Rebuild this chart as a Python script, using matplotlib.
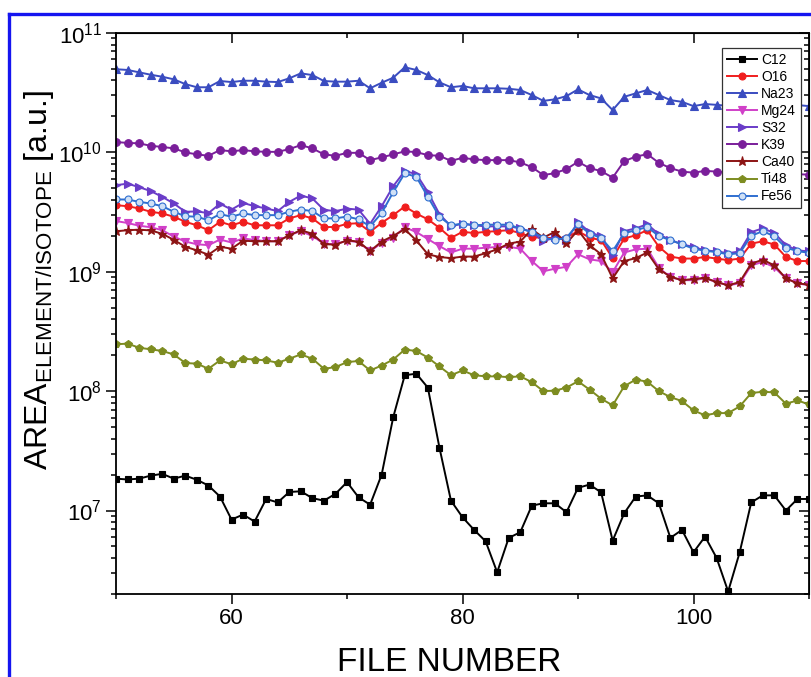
"""Element/isotope peak areas per file number, log scale, Origin-style frame."""

import matplotlib

matplotlib.use("Agg")
import matplotlib.pyplot as plt
from matplotlib.lines import Line2D
from matplotlib.ticker import LogFormatterMathtext, MultipleLocator

plt.rcParams["font.family"] = ["Liberation Sans", "DejaVu Sans"]
plt.rcParams["mathtext.fontset"] = "custom"
plt.rcParams["mathtext.rm"] = "Liberation Sans"
plt.rcParams["mathtext.it"] = "Liberation Sans:italic"
plt.rcParams["mathtext.bf"] = "Liberation Sans:bold"

FILE_NUMBER = list(range(50, 111))

C12 = [e * 1e6 for e in [
    18.5, 18.2, 18.5, 19.6, 20.3, 18.5, 19.6, 18.1, 16.2, 13.1,
    8.4, 9.25, 8.09, 12.5, 11.7, 14.3, 14.5, 12.7, 12.1, 13.8,
    17.3, 12.9, 11.2, 20.0, 60.5, 136, 140, 107, 33.7, 12.1,
    8.79, 6.89, 5.53, 3.04, 5.9, 6.58, 11.0, 11.5, 11.5, 9.68,
    15.5, 16.5, 14.2, 5.6, 9.49, 13.1, 13.4, 11.5, 5.9, 6.89,
    4.47, 6.05, 4.01, 2.10, 4.47, 11.7, 13.4, 13.4, 10.0, 12.5,
    12.5]]
O16 = [e * 1e9 for e in [
    3.61, 3.54, 3.39, 3.18, 3.08, 2.89, 2.62, 2.45, 2.23, 2.62,
    2.45, 2.62, 2.45, 2.45, 2.45, 2.80, 2.98, 2.80, 2.37, 2.37,
    2.52, 2.55, 2.16, 2.57, 2.98, 3.52, 3.07, 2.75, 2.33, 1.92,
    2.16, 2.11, 2.16, 2.19, 2.23, 2.11, 1.94, 1.93, 1.91, 1.93,
    2.19, 1.93, 1.84, 1.30, 1.90, 2.02, 2.23, 1.62, 1.34, 1.29,
    1.29, 1.33, 1.29, 1.25, 1.29, 1.72, 1.80, 1.69, 1.33, 1.23,
    1.23]]
NA23 = [e * 1e10 for e in [
    4.97, 4.90, 4.68, 4.47, 4.30, 4.09, 3.73, 3.51, 3.51, 3.96,
    3.88, 3.98, 3.98, 3.91, 3.88, 4.17, 4.59, 4.44, 3.96, 3.91,
    3.91, 3.98, 3.44, 3.83, 4.22, 5.16, 4.90, 4.44, 3.86, 3.51,
    3.60, 3.44, 3.44, 3.44, 3.41, 3.33, 3.02, 2.70, 2.78, 2.96,
    3.37, 3.02, 2.83, 2.26, 2.92, 3.12, 3.33, 3.02, 2.74, 2.65,
    2.44, 2.54, 2.50, 2.45, 2.50, 2.40, 2.45, 2.40, 2.45, 2.49,
    2.44]]
MG24 = [e * 1e9 for e in [
    2.66, 2.56, 2.43, 2.36, 2.23, 1.97, 1.79, 1.70, 1.67, 1.86,
    1.76, 1.90, 1.85, 1.80, 1.80, 2.02, 2.19, 1.99, 1.72, 1.70,
    1.82, 1.77, 1.48, 1.75, 1.93, 2.36, 2.15, 1.88, 1.64, 1.45,
    1.56, 1.56, 1.59, 1.61, 1.62, 1.56, 1.23, 1.01, 1.06, 1.10,
    1.40, 1.27, 1.23, 0.99, 1.45, 1.54, 1.56, 1.08, 0.90, 0.85,
    0.85, 0.88, 0.82, 0.77, 0.80, 1.13, 1.21, 1.09, 0.88, 0.80,
    0.77]]
S32 = [e * 1e9 for e in [
    5.31, 5.47, 5.11, 4.74, 4.24, 3.73, 3.18, 3.20, 3.10, 3.71,
    3.32, 3.77, 3.54, 3.39, 3.22, 3.85, 4.35, 4.11, 3.30, 3.22,
    3.38, 3.31, 2.52, 3.54, 5.21, 6.97, 6.58, 4.65, 3.04, 2.40,
    2.53, 2.45, 2.40, 2.40, 2.40, 2.31, 2.15, 1.80, 1.94, 1.84,
    2.60, 2.15, 1.98, 1.375, 2.19, 2.31, 2.50, 2.06, 1.84, 1.70,
    1.61, 1.51, 1.48, 1.43, 1.48, 2.15, 2.31, 2.11, 1.67, 1.51,
    1.48]]
K39 = [e * 1e9 for e in [
    12.2, 12.0, 11.9, 11.35, 11.1, 10.8, 10.0, 9.62, 9.36, 10.45,
    10.2, 10.45, 10.2, 10.1, 10.1, 10.65, 11.5, 10.8, 9.62, 9.36,
    9.91, 9.91, 8.61, 9.08, 9.62, 10.2, 10.05, 9.48, 9.36, 8.49,
    9.0, 8.73, 8.61, 8.61, 8.61, 8.24, 7.52, 6.45, 6.70, 7.24,
    8.34, 7.38, 6.97, 6.14, 8.45, 9.21, 9.66, 8.17, 7.38, 6.9,
    6.76, 7.0, 6.9, 6.8, 6.7, 6.8, 6.7, 6.6, 6.5, 6.57,
    6.5]]
CA40 = [e * 1e9 for e in [
    2.18, 2.23, 2.25, 2.22, 2.08, 1.85, 1.62, 1.51, 1.39, 1.62,
    1.56, 1.82, 1.80, 1.80, 1.80, 2.02, 2.23, 2.08, 1.70, 1.69,
    1.83, 1.79, 1.49, 1.79, 2.00, 2.27, 1.83, 1.40, 1.33, 1.30,
    1.34, 1.34, 1.43, 1.54, 1.72, 1.79, 2.27, 1.93, 2.16, 1.73,
    2.23, 1.67, 1.40, 0.88, 1.23, 1.30, 1.45, 1.05, 0.91, 0.85,
    0.87, 0.89, 0.82, 0.77, 0.82, 1.17, 1.26, 1.13, 0.88, 0.80,
    0.78]]
TI48 = [e * 1e8 for e in [
    2.47, 2.50, 2.31, 2.24, 2.17, 2.03, 1.72, 1.70, 1.54, 1.81,
    1.68, 1.87, 1.84, 1.81, 1.73, 1.87, 2.03, 1.87, 1.54, 1.59,
    1.75, 1.79, 1.49, 1.64, 1.84, 2.23, 2.17, 1.91, 1.61, 1.36,
    1.49, 1.36, 1.33, 1.33, 1.31, 1.33, 1.19, 1.00, 1.01, 1.07,
    1.21, 1.03, 0.865, 0.760, 1.10, 1.25, 1.20, 1.00, 0.891, 0.826,
    0.690, 0.627, 0.655, 0.655, 0.745, 0.964, 0.989, 0.976, 0.785, 0.836,
    0.774]]
FE56 = [e * 1e9 for e in [
    4.03, 4.03, 3.85, 3.73, 3.54, 3.18, 2.92, 2.89, 2.70, 3.04,
    2.89, 3.08, 2.98, 2.98, 2.98, 3.18, 3.32, 3.22, 2.80, 2.80,
    2.90, 2.75, 2.40, 3.10, 4.65, 6.67, 6.24, 4.24, 2.89, 2.45,
    2.53, 2.45, 2.48, 2.48, 2.48, 2.30, 2.16, 1.93, 1.84, 1.93,
    2.50, 2.09, 1.92, 1.49, 2.10, 2.23, 2.37, 1.99, 1.84, 1.70,
    1.56, 1.50, 1.46, 1.40, 1.43, 2.00, 2.19, 1.98, 1.59, 1.49,
    1.44]]

# (label, values, colour, marker, marker size, marker face)
SERIES = [
    ("C12", C12, "#000000", "s", 4.5, None),
    ("O16", O16, "#f01e1e", "o", 5.0, None),
    ("Na23", NA23, "#3a4cc0", "^", 6.0, None),
    ("Mg24", MG24, "#d040c8", "v", 6.0, None),
    ("S32", S32, "#6a3cc8", ">", 6.0, None),
    ("K39", K39, "#7a1e9a", "o", 5.5, None),
    ("Ca40", CA40, "#8c1414", "*", 6.5, None),
    ("Ti48", TI48, "#7d8c20", "p", 6.0, None),
    ("Fe56", FE56, "#2f6fd0", "o", 5.0, "#cfe0f6"),
]


def render(output="out.png"):
    fig = plt.figure(figsize=(8.12, 6.77), dpi=100)
    ax = fig.add_axes([0.1429, 0.1226, 0.8534, 0.8287])

    for label, values, color, marker, size, face in SERIES:
        ax.plot(
            FILE_NUMBER, values, color=color, marker=marker, markersize=size,
            markerfacecolor=face if face else color, markeredgecolor=color,
            markeredgewidth=0.8, linewidth=1.4, label=label,
        )

    ax.set_yscale("log")
    ax.set_ylim(2e6, 1e11)
    ax.set_xlim(50, 110)
    ax.xaxis.set_major_locator(MultipleLocator(20))
    ax.xaxis.set_minor_locator(MultipleLocator(10))
    ax.yaxis.set_major_formatter(LogFormatterMathtext())

    for spine in ax.spines.values():
        spine.set_linewidth(1.3)
    ax.tick_params(which="both", direction="out", top=False, right=False,
                   width=1.1, labelsize=16)
    ax.tick_params(which="major", length=7, pad=3)
    ax.tick_params(which="minor", length=3.5)

    # Origin-style mirrored ticks pointing inward on top and right
    top = ax.secondary_xaxis("top")
    top.xaxis.set_major_locator(MultipleLocator(20))
    top.xaxis.set_minor_locator(MultipleLocator(10))
    top.tick_params(which="both", direction="in", labeltop=False, width=1.1)
    top.tick_params(which="major", length=7)
    top.tick_params(which="minor", length=3.5)
    right = ax.secondary_yaxis("right")
    right.tick_params(which="both", direction="in", labelright=False, width=1.1)
    right.tick_params(which="major", length=7)
    right.tick_params(which="minor", length=3.5)

    ax.set_xlabel("FILE NUMBER", fontsize=24)
    ax.xaxis.set_label_coords(0.4805, -0.095)
    ax.set_ylabel(r"AREA$_{\mathrm{ELEMENT/ISOTOPE}}$ [a.u.]", fontsize=23)
    ax.yaxis.set_label_coords(-0.087, 0.56)

    leg = ax.legend(
        loc="upper right", bbox_to_anchor=(0.988, 0.973), borderaxespad=0,
        fontsize=10, labelspacing=0.22, handlelength=2.2, handletextpad=0.25,
        borderpad=0.35, fancybox=False, framealpha=1, edgecolor="#333333",
    )
    leg.get_frame().set_linewidth(0.9)

    # blue frame of the original figure, cropped at right and bottom
    bx, by = 9 / 812, 1 - 14 / 677
    frame = dict(color="#1515f0", linewidth=2.4, transform=fig.transFigure)
    fig.add_artist(Line2D([bx, bx], [0, by], **frame))
    fig.add_artist(Line2D([bx, 1], [by, by], **frame))

    fig.savefig(output, dpi=100)
    plt.close(fig)
    return output


if __name__ == "__main__":
    print(render())
